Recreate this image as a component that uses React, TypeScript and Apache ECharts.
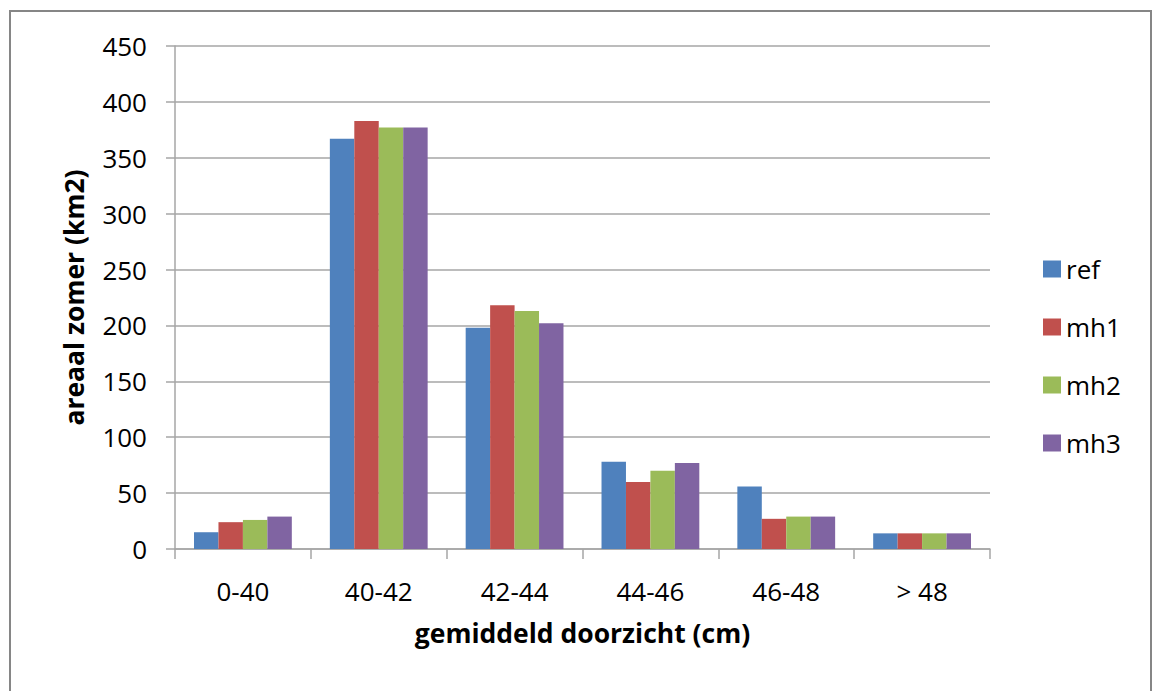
import React, { useEffect, useRef } from "react";
import * as echarts from "echarts";

const categories = ["0-40", "40-42", "42-44", "44-46", "46-48", "> 48"];
const refValues = [15, 367, 198, 78, 56, 14];
const mh1Values = [24, 383, 218, 60, 27, 14];
const mh2Values = [26, 377, 213, 70, 29, 14];
const mh3Values = [29, 377, 202, 77, 29, 14];
const seriesNames = ["ref", "mh1", "mh2", "mh3"];
const seriesColors = ["#4F81BD", "#C0504D", "#9BBB59", "#8064A2"];

export default function App() {
  const ref = useRef<HTMLDivElement>(null);
  useEffect(() => {
    if (!ref.current) return;
    const chart = echarts.init(ref.current, null, { renderer: "svg" });
    const data = [refValues, mh1Values, mh2Values, mh3Values];
    const font = "'Open Sans', sans-serif";
    chart.setOption({
      animation: false,
      backgroundColor: "#fff",
      textStyle: { fontFamily: font },
      graphic: [
        {
          type: "rect",
          shape: { x: 10, y: 11, width: 1141, height: 700 },
          style: { fill: "none", stroke: "#868686", lineWidth: 2 },
          silent: true,
        },
      ],
      grid: { left: 175, right: 164, top: 46, bottom: 142 },
      legend: {
        orient: "vertical",
        left: 1038,
        top: 251,
        itemWidth: 18,
        itemHeight: 17,
        itemGap: 32,
        icon: "rect",
        textStyle: { fontSize: 26, color: "#000", fontFamily: font },
        data: seriesNames,
      },
      xAxis: {
        type: "category",
        data: categories,
        name: "gemiddeld doorzicht (cm)",
        nameLocation: "middle",
        nameGap: 70,
        nameTextStyle: { fontSize: 26.5, fontWeight: "bold", color: "#000", fontFamily: font },
        axisLine: { lineStyle: { color: "#a6a6a6", width: 1.5 } },
        axisTick: { show: true, alignWithLabel: false, length: 10, lineStyle: { color: "#a6a6a6", width: 1.5 } },
        axisLabel: { fontSize: 26, color: "#000", margin: 29, fontFamily: font },
      },
      yAxis: {
        type: "value",
        min: 0,
        max: 450,
        interval: 50,
        name: "areaal zomer (km2)",
        nameLocation: "middle",
        nameGap: 88,
        nameTextStyle: { fontSize: 26.5, fontWeight: "bold", color: "#000", fontFamily: font },
        axisLine: { show: true, lineStyle: { color: "#a6a6a6", width: 1.5 } },
        axisTick: { show: true, length: 9, lineStyle: { color: "#a6a6a6", width: 1.5 } },
        axisLabel: { fontSize: 26, color: "#000", margin: 28, fontFamily: font },
        splitLine: { show: true, lineStyle: { color: "#a6a6a6", width: 1.5 } },
      },
      series: seriesNames.map((name, i) => ({
        name,
        type: "bar",
        data: data[i],
        barGap: "0%",
        barCategoryGap: "28%",
        itemStyle: { color: seriesColors[i] },
      })),
    });
    return () => chart.dispose();
  }, []);
  return (
    <div
      ref={ref}
      style={{ position: "fixed", left: 0, top: 0, width: 1154, height: 691, background: "#fff" }}
    />
  );
}
